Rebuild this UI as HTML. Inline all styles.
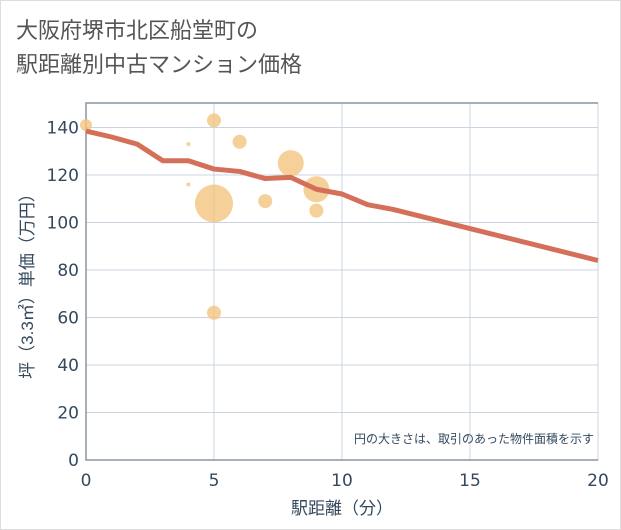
<!DOCTYPE html>
<html><head><meta charset="utf-8"><style>
body{margin:0;background:#fff;}
#wrap{width:621px;height:530px;position:relative;font-family:"Liberation Sans","Noto Sans CJK JP",sans-serif;}
#title{position:absolute;left:16px;top:14px;font-size:22px;line-height:34px;color:#555;}
</style></head><body>
<div id="wrap">
<div style="position:absolute;inset:0;border:1px solid #ddd;box-sizing:border-box;"></div>
<div id="title">大阪府堺市北区船堂町の<br>駅距離別中古マンション価格</div>
<svg id="chart" width="621" height="530" style="position:absolute;left:0;top:0"></svg>
</div>
<script>
const xTicks=[0,5,10,15,20];
const yTicks=[0,20,40,60,80,100,120,140];
const lineX=[0,1,2,3,4,5,6,7,8,9,10,11,12,20];
const lineY=[138.5,136,133,126,126,122.5,121.5,118.5,119,114,112,107.5,105.5,84];
const bubX=[0,5,4,6,4,5,8,7,9,9,5];
const bubY=[141,143,133,134,116,108,125,109,114,105,62];
const bubR=[6,7,2,7,2,19,13,7,13,7,7];
const NS="http://www.w3.org/2000/svg";
const svg=document.getElementById('chart');
const L=86,R=598,T=103,B=460;
const TC='#34495e';
const xs=v=>L+(v-0)/20*(R-L);
const ys=v=>B-v/140*(B-127.5);
function mk(t,a){const e=document.createElementNS(NS,t);for(const k in a)e.setAttribute(k,a[k]);svg.appendChild(e);return e;}
yTicks.forEach(v=>{
 const g=mk('line',{x1:L,x2:R,y1:ys(v),y2:ys(v),stroke:'#c8d4e0','stroke-width':1});
 
 
 const t=mk('text',{x:L-7,y:ys(v)+6,'text-anchor':'end','font-size':17,fill:TC,'font-family':'DejaVu Sans, sans-serif'});
 t.textContent=v;
 
 
});
xTicks.forEach(v=>{
 const g=mk('line',{x1:xs(v),x2:xs(v),y1:T,y2:B,stroke:'#c8d4e0','stroke-width':1});
 
 
 const t=mk('text',{x:xs(v),y:B+26,'text-anchor':'middle','font-size':17,fill:TC,'font-family':'DejaVu Sans, sans-serif'});
 t.textContent=v;
 
 
});
const ax=mk('path',{d:`M${R} ${T}H${L}V${B}H${R}`,fill:'none',stroke:'#8a96a0','stroke-width':1.5});


bubX.forEach((x,i)=>{
 const c=mk('circle',{cx:xs(x),cy:ys(bubY[i]),r:bubR[i],fill:'#f3c47e','fill-opacity':0.8});
 
 
});
const p=mk('polyline',{points:lineX.map((x,i)=>xs(x)+','+ys(lineY[i])).join(' '),fill:'none',stroke:'#d4705a','stroke-width':5,'stroke-linejoin':'round'});


const n=mk('text',{x:594,y:443,'text-anchor':'end','font-size':12,fill:TC,'font-family':'Liberation Sans, Noto Sans CJK JP, sans-serif'});
n.textContent='円の大きさは、取引のあった物件面積を示す';


const xt=mk('text',{x:342,y:514,'text-anchor':'middle','font-size':17,fill:TC,'font-family':'Liberation Sans, Noto Sans CJK JP, sans-serif'});
xt.textContent='駅距離（分）';


const yt=mk('text',{x:0,y:0,'text-anchor':'middle','font-size':17,fill:TC,'font-family':'Liberation Sans, Noto Sans CJK JP, sans-serif',transform:'translate(33,282) rotate(-90)'});
yt.textContent='坪（3.3㎡）単価（万円）';


</script>
</body></html>
